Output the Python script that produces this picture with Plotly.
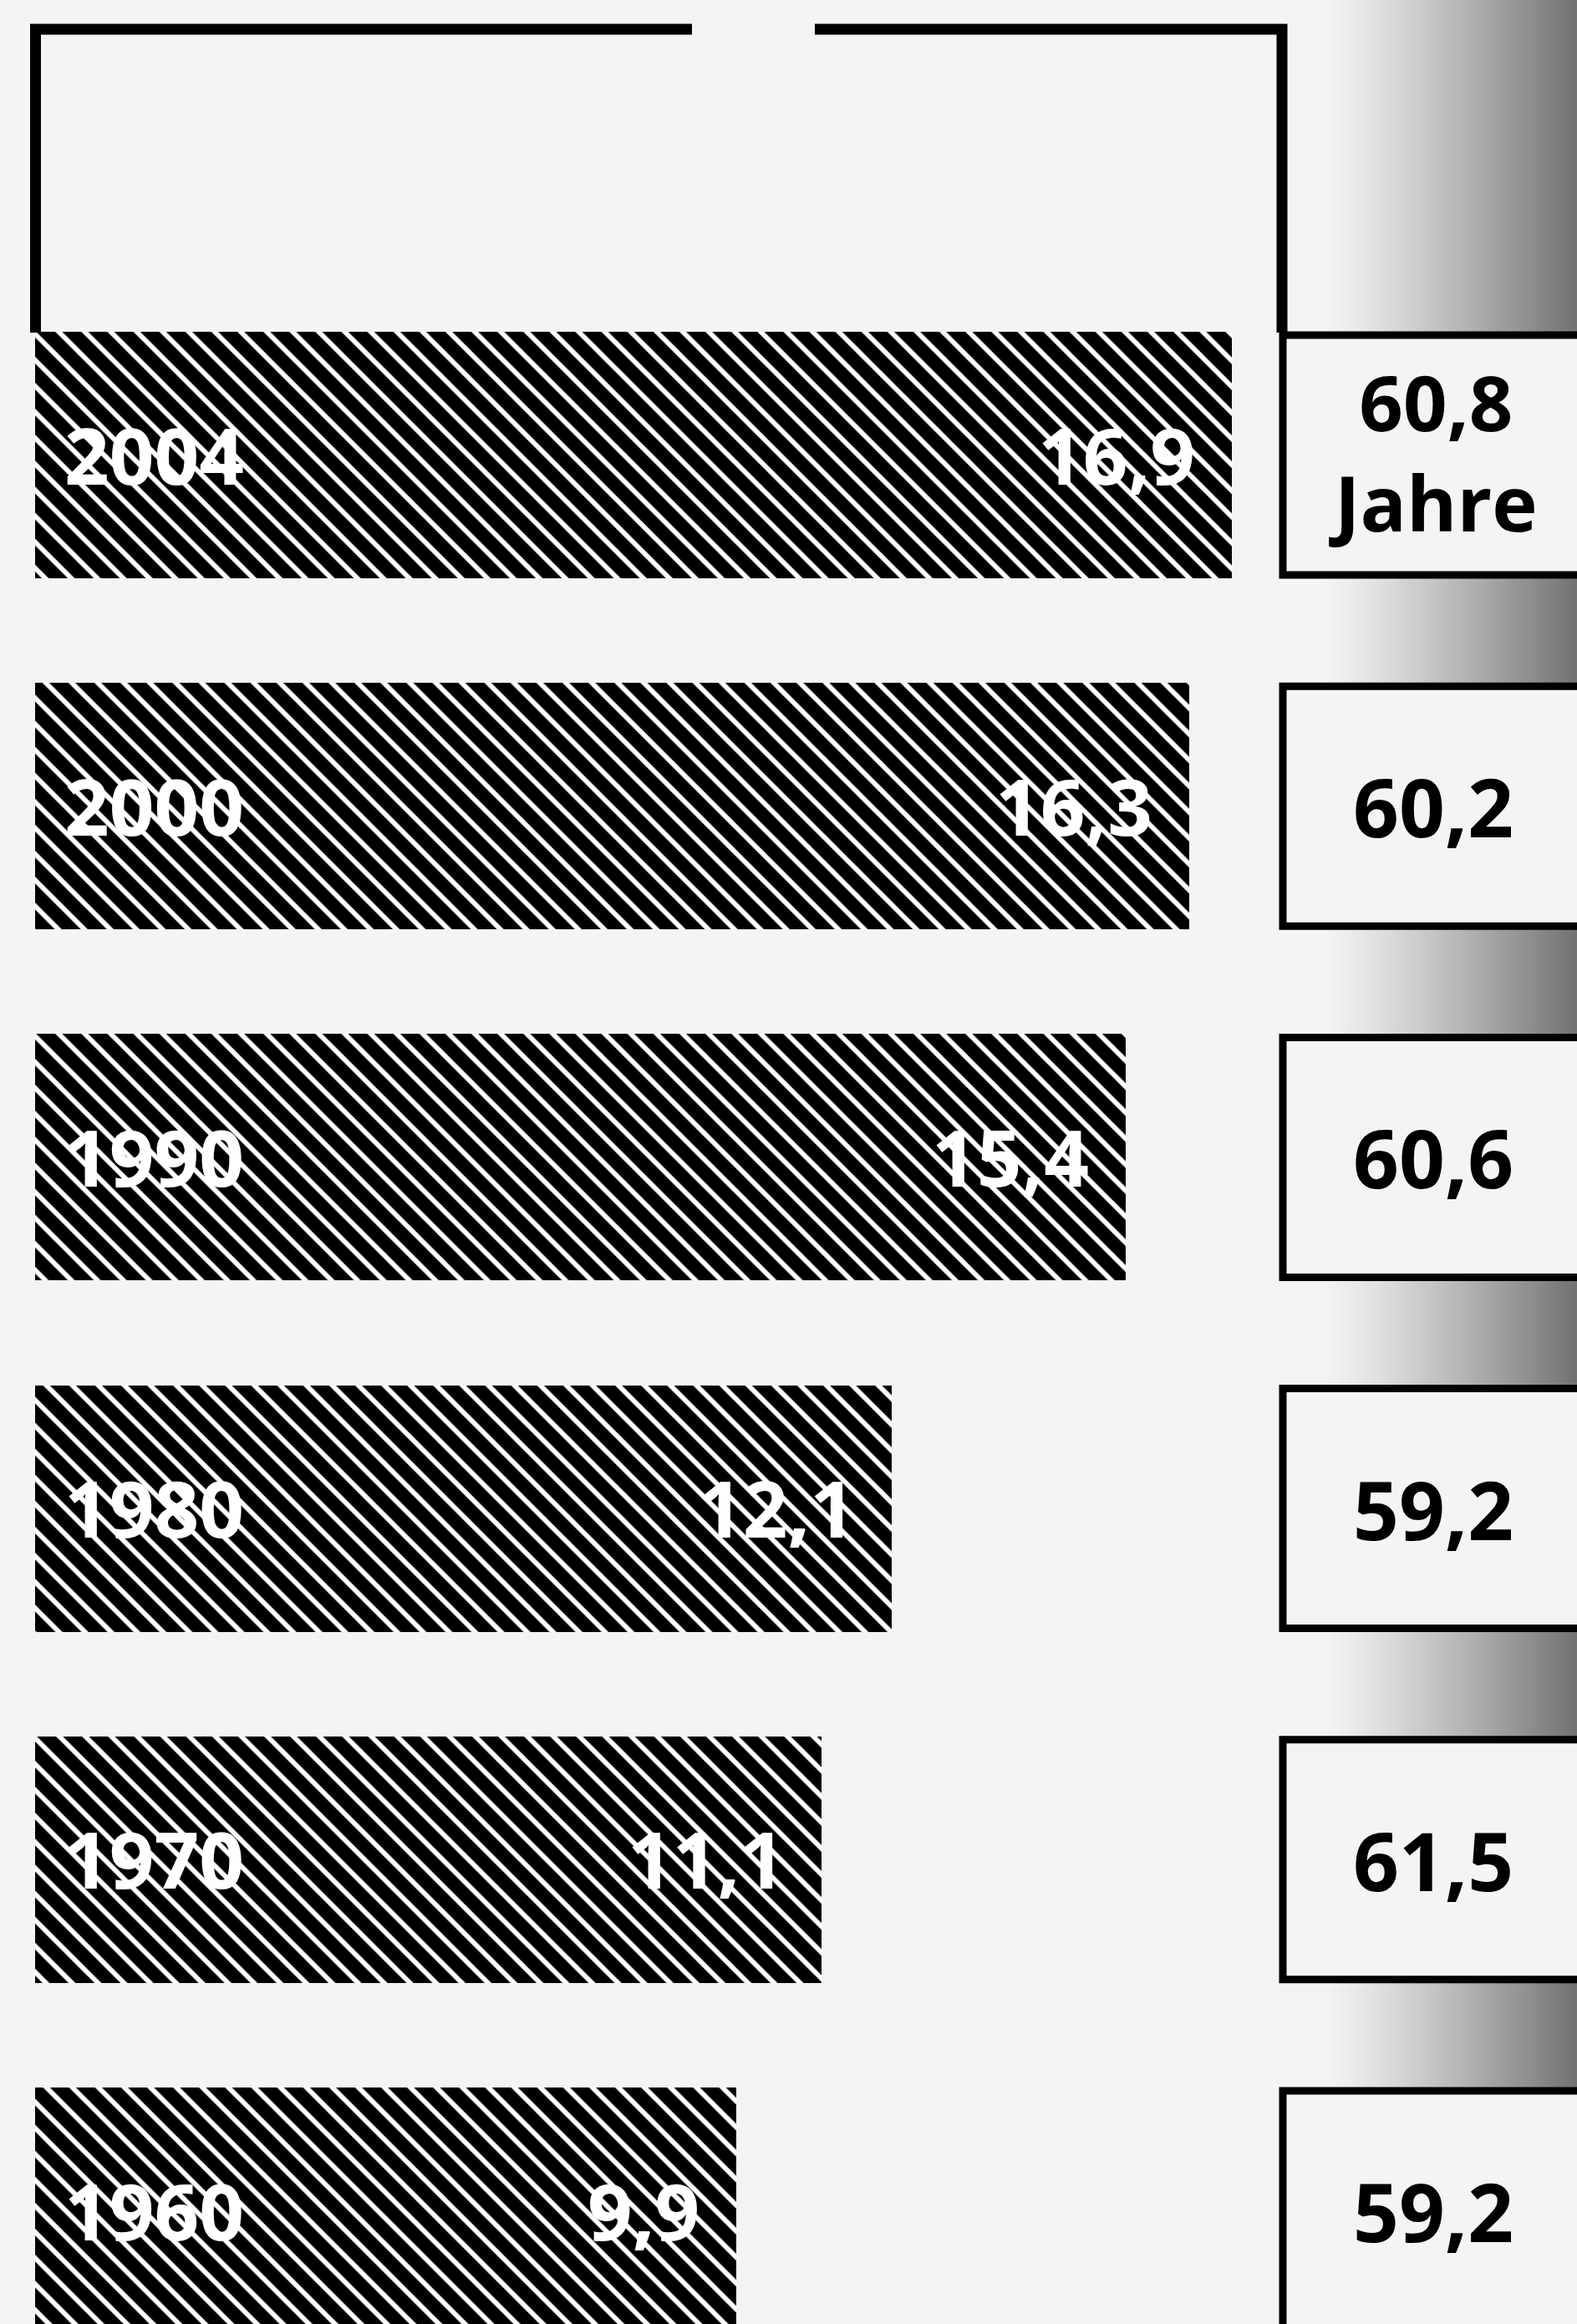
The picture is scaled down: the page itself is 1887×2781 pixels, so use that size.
import plotly.graph_objects as go

# ---------------- data ----------------
years = ["2004", "2000", "1990", "1980", "1970", "1960"]
bar_values = [16.9, 16.3, 15.4, 12.1, 11.1, 9.9]
box_values = [60.8, 60.2, 60.6, 59.2, 61.5, 59.2]
unit_label = "Jahre"

# ---------------- geometry / style ----------------
W, H = 1887, 2781
X0_PX = 42.0          # pixel position of value 0
PX_PER_UNIT = 84.73   # pixels per unit on the x axis
Y0_PX = 544.5         # centre of first row
ROW_PX = 420.2        # row pitch
BAR_PX = 295.0        # bar thickness
BG = "#f4f4f4"
FONT = "Open Sans"


def fmt(v):
    return f"{v:.1f}".replace(".", ",")


def px_x(p):
    return (p - X0_PX) / PX_PER_UNIT


def paper(xp, yp):
    return xp / W, 1 - yp / H


x_range = [px_x(0), px_x(W)]
y_top = -Y0_PX / ROW_PX
y_bot = (H - Y0_PX) / ROW_PX
pos = list(range(len(years)))
bar_w = BAR_PX / ROW_PX

fig = go.Figure()
fig.add_trace(go.Bar(
    x=bar_values, y=pos, orientation="h", width=bar_w,
    marker=dict(color="white", line=dict(width=0),
                pattern=dict(shape="\\", fgcolor="#000000", bgcolor="#ffffff",
                             size=22, solidity=0.74, fillmode="replace")),
    hoverinfo="skip", showlegend=False,
))

shapes = []
# halftone gradient on the right (decorative)
n = 48
gx0, gx1 = 1585, W
for k in range(n):
    xa = gx0 + (gx1 - gx0) * k / n
    xb = gx0 + (gx1 - gx0) * (k + 1) / n + 1
    t = (k + 0.5) / n
    g = int(244 - (t ** 1.2) * 130)
    shapes.append(dict(type="rect", xref="x", yref="paper",
                       x0=px_x(xa), x1=px_x(xb), y0=0, y1=1,
                       fillcolor=f"rgb({g},{g},{g})", line=dict(width=0),
                       layer="below"))

# boxes on the right
for i in pos:
    shapes.append(dict(type="rect", xref="x", yref="y",
                       x0=px_x(1535), x1=px_x(1990),
                       y0=i - bar_w / 2 + 4 / ROW_PX, y1=i + bar_w / 2 - 4 / ROW_PX,
                       fillcolor=BG, line=dict(color="black", width=9),
                       layer="above"))

# top frame
ax, ay = paper(42.5, 398)
bx, by = paper(42.5, 35)
cx, cy = paper(828, 35)
dx, dy = paper(975, 35)
ex, ey = paper(1534, 35)
fx, fy = paper(1534, 398)
shapes.append(dict(type="path", xref="paper", yref="paper",
                   path=f"M{ax},{ay} L{bx},{by} L{cx},{cy}",
                   line=dict(color="black", width=13)))
shapes.append(dict(type="path", xref="paper", yref="paper",
                   path=f"M{dx},{dy} L{ex},{ey} L{fx},{fy}",
                   line=dict(color="black", width=13)))

annotations = []
for i in pos:
    annotations.append(dict(x=0, y=i, xref="x", yref="y", text=years[i],
                            showarrow=False, xanchor="left", yanchor="middle",
                            xshift=33, yshift=1,
                            font=dict(family=FONT, size=94, color="white", weight=700)))
    annotations.append(dict(x=bar_values[i], y=i, xref="x", yref="y",
                            text=fmt(bar_values[i]),
                            showarrow=False, xanchor="right", yanchor="middle",
                            xshift=-42, yshift=1,
                            font=dict(family=FONT, size=94, color="white", weight=700)))
    label = fmt(box_values[i])
    if i == 0:
        label = label + "<br>" + unit_label
    annotations.append(dict(x=px_x(1715), y=i, xref="x", yref="y",
                            text=label,
                            showarrow=False, xanchor="center", yanchor="middle",
                            yshift=4 if i == 0 else 0,
                            font=dict(family=FONT, size=92 if i == 0 else 96,
                                      color="black", weight=700)))

fig.update_layout(
    width=W, height=H,
    margin=dict(l=0, r=0, t=0, b=0),
    paper_bgcolor=BG, plot_bgcolor=BG,
    xaxis=dict(range=x_range, visible=False, fixedrange=True),
    yaxis=dict(range=[y_bot, y_top], visible=False, fixedrange=True),
    shapes=shapes, annotations=annotations,
    bargap=0, showlegend=False,
)

fig.write_html(
    "out.html",
    config={"displayModeBar": False},
    post_script=("document.body.style.margin='0';document.body.style.padding='0';"
                 "document.body.style.background='" + BG + "';"
                 "document.documentElement.style.overflow='hidden';"),
)
